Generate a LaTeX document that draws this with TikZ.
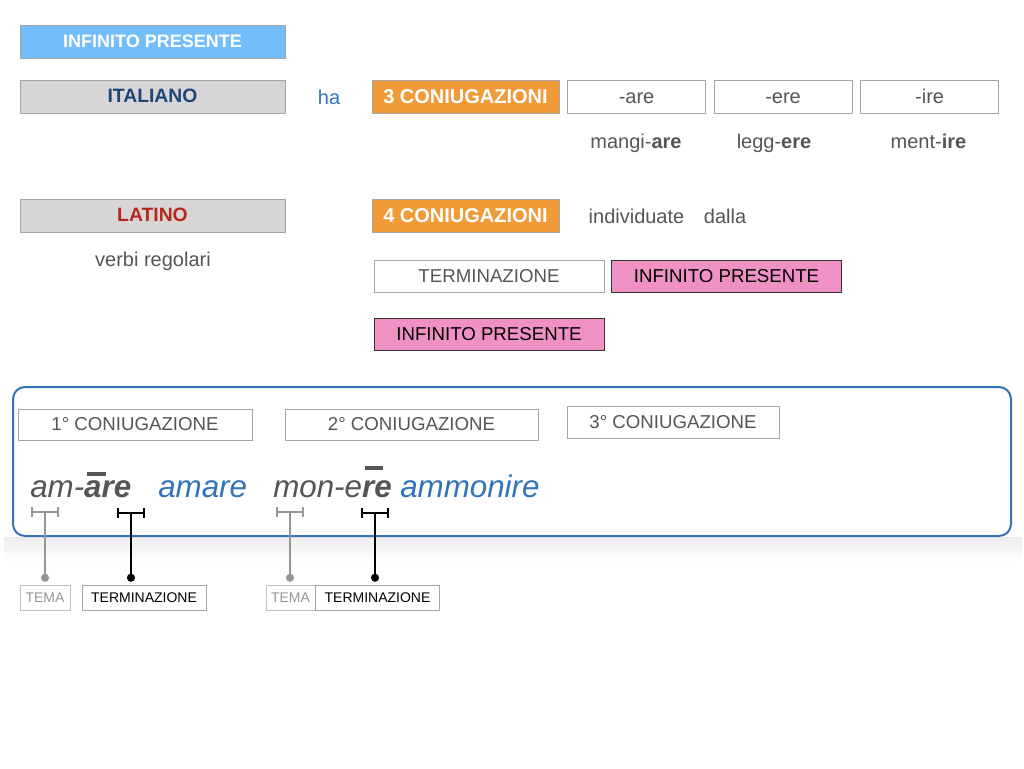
\documentclass[tikz,border=0pt]{standalone}
\usepackage{fontspec}
\setmainfont{Liberation Sans}
\usetikzlibrary{positioning,arrows.meta}
\definecolor{skyblue}{RGB}{115,190,250}
\definecolor{panelgray}{RGB}{215,213,214}
\definecolor{edgegray}{RGB}{165,165,165}
\definecolor{navytext}{RGB}{30,70,120}
\definecolor{linkblue}{RGB}{50,115,185}
\definecolor{warmorange}{RGB}{240,155,55}
\definecolor{brickred}{RGB}{180,40,30}
\definecolor{softpink}{RGB}{240,145,195}
\definecolor{inkgray}{RGB}{85,85,85}
\definecolor{temagray}{RGB}{150,150,150}

% long mark: raise, width
\newcommand{\segno}[2]{\rlap{\kern0.1em\raisebox{#1}{\rule{#2}{0.13em}}}}

\tikzset{
  headbox/.style={draw=edgegray, fill=skyblue, text=white, font=\bfseries\fontsize{13.5}{16}\selectfont,
    text height=9.7pt, text depth=0.8pt, inner sep=0pt, minimum width=199pt, minimum height=24.75pt},
  langbox/.style={draw=edgegray, fill=panelgray, font=\bfseries\fontsize{14.5}{17}\selectfont,
    text height=10.4pt, text depth=0.9pt, inner sep=0pt, minimum width=199pt, minimum height=24.75pt},
  countbox/.style={draw=edgegray, fill=warmorange, text=white, font=\bfseries\fontsize{15}{18}\selectfont,
    text height=10.8pt, text depth=0.9pt, inner sep=0pt, minimum width=140.25pt, minimum height=24.75pt},
  endbox/.style={draw=edgegray, text=inkgray, font=\fontsize{15}{18}\selectfont,
    text height=10.8pt, text depth=0.9pt, inner sep=0pt, minimum width=103.5pt, minimum height=24.75pt},
  rulebox/.style={draw=edgegray, text=inkgray, font=\fontsize{14}{17}\selectfont,
    text height=10.1pt, text depth=0.9pt, inner sep=0pt, minimum width=172.5pt, minimum height=24pt},
  pinkbox/.style={draw=black!80, fill=softpink, font=\fontsize{14}{17}\selectfont,
    text height=10.1pt, text depth=0.9pt, inner sep=0pt, minimum width=172.5pt, minimum height=24pt},
  conjbox/.style={draw=edgegray, text=inkgray, font=\fontsize{14}{17}\selectfont,
    text height=10.1pt, text depth=0.9pt, inner sep=0pt, minimum height=23.25pt},
  tagbox/.style={draw=edgegray, font=\fontsize{10.5}{12}\selectfont,
    text height=7.6pt, text depth=0.6pt, inner sep=0pt, minimum height=18.75pt},
  plain/.style={text=inkgray, font=\fontsize{15}{18}\selectfont, inner sep=0pt, text height=10.8pt, text depth=3.2pt},
  bigword/.style={anchor=base west, inner sep=0pt, font=\itshape\fontsize{23.5}{27}\selectfont},
  panel/.style={draw=linkblue, line width=1.5pt, rounded corners=9pt},
  temabar/.style={temagray, line width=1.5pt, {Bar[width=7.5pt]}-{Bar[width=7.5pt]}},
  endbar/.style={black, line width=1.5pt, {Bar[width=7.5pt]}-{Bar[width=7.5pt]}},
  temaline/.style={temagray, line width=1.5pt, -{Circle[length=6pt]}, shorten >=2.25pt},
  endline/.style={black, line width=1.5pt, -{Circle[length=6pt]}, shorten >=2.25pt}
}

\begin{document}
\begin{tikzpicture}[x=0.75pt,y=-0.75pt]
\useasboundingbox (0,0) rectangle (1024,768);

% top rows
\node[headbox] (infpres) at (152.5,41.5) {INFINITO PRESENTE};
\node[langbox, text=navytext] (ital) at (152.5,96.5) {ITALIANO};
\node[plain, text=linkblue] (ha) at (329,99) {ha};
\node[countbox] (tre) at (465.5,96.5) {3 CONIUGAZIONI};
\node[endbox, right=6pt of tre] (are) {-are};
\node[endbox, right=6pt of are] (ere) {-ere};
\node[endbox, right=6pt of ere] (ire) {-ire};
\node[plain] (mangiare) at (636,143) {mangi-\textbf{are}};
\node[plain] (leggere) at (774,143) {legg-\textbf{ere}};
\node[plain] (mentire) at (928.5,143) {ment-\textbf{ire}};

\node[langbox, text=brickred] (lat) at (152.5,215.5) {LATINO};
\node[plain] (regolari) at (153,261) {verbi regolari};
\node[countbox] (quattro) at (465.5,215.5) {4 CONIUGAZIONI};
\node[plain] (individuate) at (636.5,218) {individuate};
\node[plain] (dalla) at (725,218) {dalla};
\node[rulebox] (term) at (489,276) {TERMINAZIONE};
\node[pinkbox, right=5.25pt of term] (infA) {INFINITO PRESENTE};
\node[pinkbox] (infB) at (489,334) {INFINITO PRESENTE};

% panel with the examples
\shade[top color=black!7, bottom color=white] (4,537) rectangle (1022,562);
\node[panel, minimum width=748.5pt, minimum height=111.75pt, fill=white] (frame) at (512,461.5) {};
\node[conjbox, minimum width=175.5pt] (prima) at (135,424.5) {1° CONIUGAZIONE};
\node[conjbox, minimum width=189.75pt] (seconda) at (411.5,424.5) {2° CONIUGAZIONE};
\node[conjbox, minimum width=159pt, minimum height=24pt] (terza) at (673,422) {3° CONIUGAZIONE};

\node[bigword, text=inkgray] (amare) at (30,497) {am-\textbf{\segno{0.66em}{0.6em}are}};
\node[bigword, text=linkblue] (amareit) at (158,497) {amare};
\node[bigword, text=inkgray] (monere) at (273,497) {mon-e\textbf{\segno{0.87em}{0.58em}re}};
\node[bigword, text=linkblue] (ammonire) at (400,497) {ammonire};

% stem and ending marks
\coordinate (temaA) at (45,512);
\coordinate (finA) at (131,513);
\coordinate (temaB) at (290,512);
\coordinate (finB) at (375,513);

\node[tagbox, text=temagray, draw=edgegray!70, minimum width=37.5pt] (temaboxA) at (45,597.5) {TEMA};
\node[tagbox, minimum width=93pt] (termboxA) at (144,597.5) {TERMINAZIONE};
\node[tagbox, text=temagray, draw=edgegray!70, minimum width=36.75pt] (temaboxB) at (290.5,597.5) {TEMA};
\node[tagbox, minimum width=93pt, right=0pt of temaboxB] (termboxB) {TERMINAZIONE};

\draw[temabar] ([xshift=-10.5pt]temaA) -- ([xshift=10.5pt]temaA);
\draw[endbar] ([xshift=-10.5pt]finA) -- ([xshift=10.5pt]finA);
\draw[temabar] ([xshift=-10.5pt]temaB) -- ([xshift=10.5pt]temaB);
\draw[endbar] ([xshift=-10.5pt]finB) -- ([xshift=10.5pt]finB);

\draw[temaline] (temaA) -- (temaA |- temaboxA.north);
\draw[endline] (finA) -- (finA |- termboxA.north);
\draw[temaline] (temaB) -- (temaB |- temaboxB.north);
\draw[endline] (finB) -- (finB |- termboxB.north);
\end{tikzpicture}
\end{document}
